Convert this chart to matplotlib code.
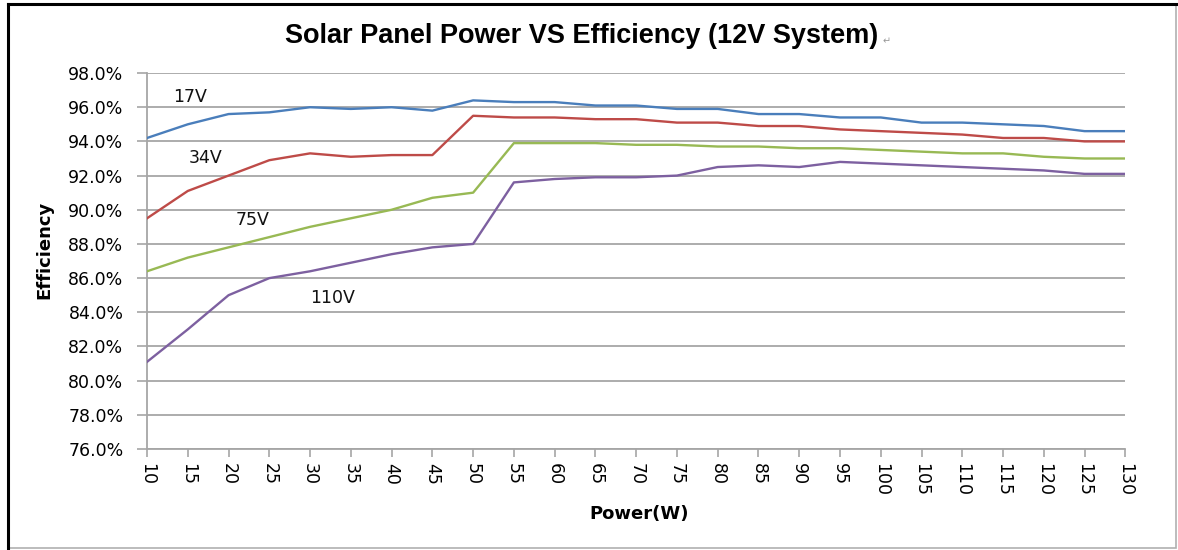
import matplotlib
matplotlib.use("Agg")
import matplotlib.pyplot as plt
from matplotlib.patches import Rectangle
from matplotlib.ticker import FuncFormatter
import numpy as np

power = list(range(10, 131, 5))

# efficiency in percent
eff_17v = [94.2, 95.0, 95.6, 95.7, 96.0, 95.9, 96.0, 95.8, 96.4, 96.3,
           96.3, 96.1, 96.1, 95.9, 95.9, 95.6, 95.6, 95.4, 95.4, 95.1,
           95.1, 95.0, 94.9, 94.6, 94.6]
eff_34v = [89.5, 91.1, 92.0, 92.9, 93.3, 93.1, 93.2, 93.2, 95.5, 95.4,
           95.4, 95.3, 95.3, 95.1, 95.1, 94.9, 94.9, 94.7, 94.6, 94.5,
           94.4, 94.2, 94.2, 94.0, 94.0]
eff_75v = [86.4, 87.2, 87.8, 88.4, 89.0, 89.5, 90.0, 90.7, 91.0, 93.9,
           93.9, 93.9, 93.8, 93.8, 93.7, 93.7, 93.6, 93.6, 93.5, 93.4,
           93.3, 93.3, 93.1, 93.0, 93.0]
eff_110v = [81.1, 83.0, 85.0, 86.0, 86.4, 86.9, 87.4, 87.8, 88.0, 91.6,
            91.8, 91.9, 91.9, 92.0, 92.5, 92.6, 92.5, 92.8, 92.7, 92.6,
            92.5, 92.4, 92.3, 92.1, 92.1]

series_names = ["17V", "34V", "75V", "110V"]
series_vals = [eff_17v, eff_34v, eff_75v, eff_110v]
colors = ["#4a7ebb", "#be4b48", "#98b954", "#7d60a0"]
label_pos = [(15.3, 96.6), (17.2, 93.0), (23.0, 89.4), (32.7, 84.85)]

plt.rcParams["font.family"] = ["DejaVu Sans"]

fig = plt.figure(figsize=(11.78, 5.5), dpi=100)
ax = fig.add_axes([0.1248, 0.1836, 0.8305, 0.6836])

grid_c = "#a6a6a6"
for name, vals, c, (lx, ly) in zip(series_names, series_vals, colors, label_pos):
    ax.plot(power, vals, color=c, lw=1.7, zorder=3)
    ax.text(lx, ly, name, fontsize=12.5, ha="center", va="center", color="#111111")

ax.set_xlim(10, 130)
ax.set_ylim(76, 98)
ax.set_xticks(power)
ax.set_xticklabels([str(p) for p in power], rotation=270, fontsize=12.5)
ax.set_yticks(np.arange(76, 98.1, 2))
ax.yaxis.set_major_formatter(FuncFormatter(lambda v, p: f"{v:.1f}%"))
ax.tick_params(axis="y", labelsize=12.5, length=7, color=grid_c, width=1.2, pad=10)
ax.tick_params(axis="x", length=6, color=grid_c, width=1.2, pad=4)
ax.grid(axis="y", color=grid_c, lw=1.3)
ax.set_axisbelow(True)
for s in ["top", "right"]:
    ax.spines[s].set_visible(False)
for s in ["left", "bottom"]:
    ax.spines[s].set_color(grid_c)
    ax.spines[s].set_linewidth(1.3)

ax.set_xlabel("Power(W)", fontsize=13, fontweight="bold")
ax.set_ylabel("Efficiency", fontsize=13, fontweight="bold")
ax.xaxis.set_label_coords(0.503, -0.15)
ax.yaxis.set_label_coords(-0.096, 0.529)

fig.text(0.494, 0.934, "Solar Panel Power VS Efficiency (12V System)",
         ha="center", va="center", fontsize=19.5, fontweight="bold",
         family="Liberation Sans")
fig.text(0.749, 0.925, "\u21b5", fontsize=7, color="#999999", ha="left", va="center")

# frame around the picture
fig.add_artist(Rectangle((0.007, 0.003), 0.991, 0.99, transform=fig.transFigure,
                         fill=False, edgecolor="#b0b0b0", lw=1.2))
fig.add_artist(plt.Line2D([0.007, 0.007], [0.003, 0.993], transform=fig.transFigure,
                          color="black", lw=2.2))
fig.add_artist(plt.Line2D([0.007, 0.998], [0.993, 0.993], transform=fig.transFigure,
                          color="black", lw=2.2))

fig.savefig("out.png", dpi=100)
